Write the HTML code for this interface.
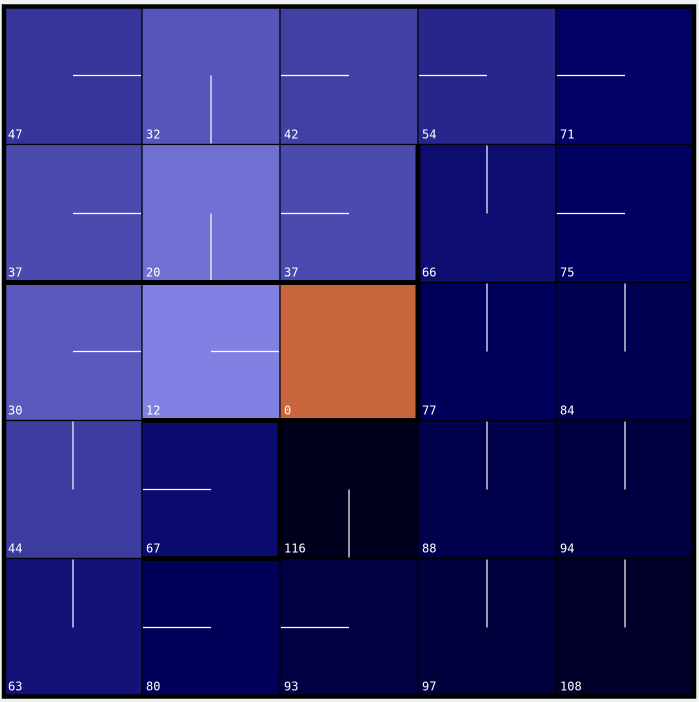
<!DOCTYPE html>
<html><head><meta charset="utf-8"><style>
html,body{margin:0;padding:0;background:#eef2f0;}
svg{display:block;}
</style></head><body>
<svg id="grid" width="699" height="702" xmlns="http://www.w3.org/2000/svg"></svg>
<script>
// Values per row (rows top->bottom, cols left->right)
const row0 = [47, 32, 42, 54, 71];
const row1 = [37, 20, 37, 66, 75];
const row2 = [30, 12, 0, 77, 84];
const row3 = [44, 67, 116, 88, 94];
const row4 = [63, 80, 93, 97, 108];
const values = [row0, row1, row2, row3, row4];
// policy directions: R right, L left, U up, D down, N none
const policy = [
  ['R','D','L','L','L'],
  ['R','D','L','U','L'],
  ['R','R','N','U','U'],
  ['U','L','D','U','U'],
  ['U','L','L','U','U']
];
const goal = [2, 2];
// walls: [orientation, row, col, length]
const walls = [['h',2,0,3],['v',1,3,2],['h',3,1,2],['v',3,2,1],['h',4,1,1]];

const NS = 'http://www.w3.org/2000/svg';
const svg = document.getElementById('grid');
const X0 = 4, Y0 = 6.5, W = 138, H = 138;
function cx(c){return X0 + c*W;}
function cy(r){return Y0 + r*H;}
function color(v){
  let r,g,b;
  if (v <= 71){ r = Math.max(0, 129 - 2.15*(v-12)); g = Math.max(0, r-1); b = 227 - 2.12*(v-12); }
  else { r = 0; g = 0; b = Math.max(20, 102 - 1.6*(v-71)); }
  return 'rgb(' + Math.round(r) + ',' + Math.round(g) + ',' + Math.round(b) + ')';
}
function mk(tag, attrs){
  const e = document.createElementNS(NS, tag);
  for (const k in attrs) e.setAttribute(k, attrs[k]);
  svg.appendChild(e);
  return e;
}
for (let r = 0; r < 5; r++){
  for (let c = 0; c < 5; c++){
    const v = values[r][c];
    const isGoal = r === goal[0] && c === goal[1];
    const rect = mk('rect', {x: cx(c), y: cy(r), width: W, height: H, fill: isGoal ? '#c8653a' : color(v), stroke: '#000', 'stroke-width': 1.2});
    
    
    const mx = cx(c) + W/2, my = cy(r) + H/2;
    const d = policy[r][c];
    let x2 = mx, y2 = my;
    if (d === 'R') x2 = cx(c) + W - 1;
    if (d === 'L') x2 = cx(c) + 1;
    if (d === 'U') y2 = cy(r) + 1;
    if (d === 'D') y2 = cy(r) + H - 1;
    if (d !== 'N'){
      const ln = mk('line', {x1: mx, y1: my, x2: x2, y2: y2, stroke: '#fff', 'stroke-width': 1.2});
      
      
    }
    const t = mk('text', {x: cx(c) + 4, y: cy(r) + H - 6, fill: '#fff', 'font-family': '"DejaVu Sans Mono","Liberation Mono",monospace', 'font-size': 12});
    t.textContent = v;
    
    
  }
}
walls.forEach(function(w, i){
  let x1, y1, x2, y2;
  if (w[0] === 'h'){ x1 = cx(w[2]); x2 = cx(w[2] + w[3]); y1 = y2 = cy(w[1]); }
  else { y1 = cy(w[1]); y2 = cy(w[1] + w[3]); x1 = x2 = cx(w[2]); }
  const l = mk('line', {x1: x1, y1: y1, x2: x2, y2: y2, stroke: '#000', 'stroke-width': 5});
  
  
});
const border = mk('rect', {x: 4, y: 6.5, width: 690, height: 690, fill: 'none', stroke: '#000', 'stroke-width': 4.5});


</script>
</body></html>
